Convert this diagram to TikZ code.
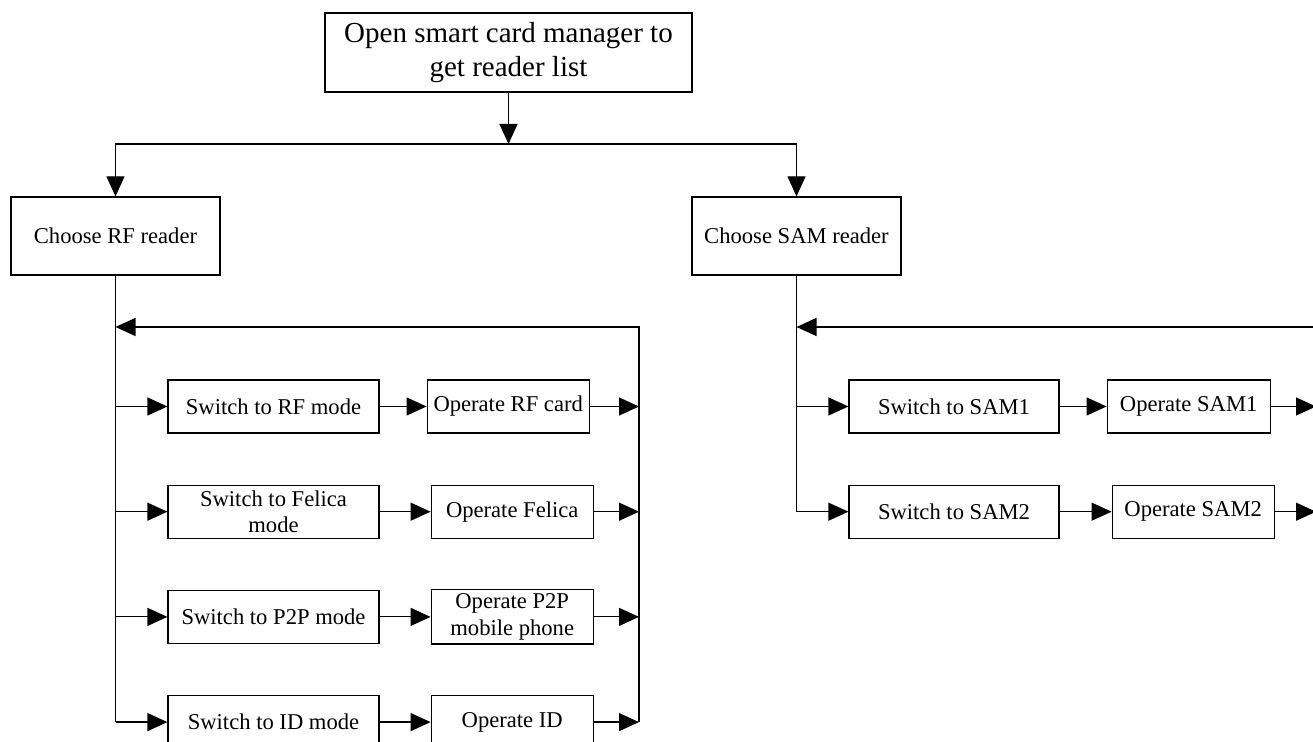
\documentclass[tikz,border=0pt]{standalone}
\usepackage{fontspec}
\setmainfont{Liberation Serif}
\usetikzlibrary{shapes,arrows.meta,positioning}
\tikzstyle{arrow} = [line width=0.6pt,-{Triangle[length=10pt,width=9pt]}]
\tikzstyle{line} = [line width=0.6pt]
\tikzstyle{box} = [draw, line width=0.6pt, align=center, inner sep=2pt, minimum height=26.5pt, font=\fontsize{11.3}{13.3}\selectfont]

\begin{document}
\begin{tikzpicture}[x=0.5pt, y=-0.5pt, node distance=25.5pt and 25.5pt]

    \useasboundingbox (0,0) rectangle (1313,742);
    \clip (0,0) rectangle (1313,742);

    % Define nodes (top and the two readers)
    \node[box, minimum width=183.5pt, minimum height=39.5pt, font=\fontsize{14.5}{17}\selectfont] (open) at (508.5,52.5) {Open smart card manager to\\get reader list};
    \node[box, minimum width=104.5pt, minimum height=39pt] (rf) at (115.5,236) {Choose RF reader};
    \node[box, minimum width=104.5pt, minimum height=39pt] (sam) at (796.5,236) {Choose SAM reader};

    % RF reader branch
    \node[box, minimum width=105.5pt] (rfsw1) at (273.5,406.5) {Switch to RF mode};
    \node[box, minimum width=105.5pt] (rfsw2) [below=of rfsw1] {Switch to Felica\\mode};
    \node[box, minimum width=105.5pt] (rfsw3) [below=of rfsw2] {Switch to P2P mode};
    \node[box, minimum width=105.5pt] (rfsw4) [below=of rfsw3] {Switch to ID mode};

    \node[box, minimum width=81pt] (rfop1) [right=23.5pt of rfsw1] {Operate RF card};
    \node[box, minimum width=81pt] (rfop2) [right=of rfsw2] {Operate Felica};
    \node[box, minimum width=81pt] (rfop3) [right=of rfsw3] {Operate P2P\\mobile phone};
    \node[box, minimum width=81pt] (rfop4) [right=of rfsw4] {Operate ID};

    % SAM reader branch
    \node[box, minimum width=105pt] (samsw1) at (954,406.5) {Switch to SAM1};
    \node[box, minimum width=105pt] (samsw2) [below=of samsw1] {Switch to SAM2};

    \node[box, minimum width=81.5pt] (samop1) [right=23.5pt of samsw1] {Operate SAM1};
    \node[box, minimum width=81pt] (samop2) [right=26pt of samsw2] {Operate SAM2};

    % Junction points
    \coordinate (split) at (508.5,144);
    \coordinate (rfret) at (639,327);
    \coordinate (samret) at (1316,327);

    % Split to both readers
    \draw[arrow] (open) -- (split);
    \draw[arrow] (split) -| (rf);
    \draw[arrow] (split) -| (sam);

    % RF loop
    \draw[line] (rf) -- (rf |- rfsw4);
    \foreach \i in {1,...,4} {
        \draw[arrow] (rf |- rfsw\i) -- (rfsw\i);
        \draw[arrow] (rfsw\i) -- (rfop\i);
        \draw[arrow] (rfop\i) -- (rfret |- rfop\i);
    }
    \draw[arrow] (rfret |- rfsw4) -- (rfret) -- (rf |- rfret);

    % SAM loop
    \draw[line] (sam) -- (sam |- samsw2);
    \foreach \i in {1,2} {
        \draw[arrow] (sam |- samsw\i) -- (samsw\i);
        \draw[arrow] (samsw\i) -- (samop\i);
        \draw[arrow] (samop\i) -- (samret |- samop\i);
    }
    \draw[arrow] (samret |- samsw2) -- (samret) -- (sam |- samret);

\end{tikzpicture}
\end{document}
